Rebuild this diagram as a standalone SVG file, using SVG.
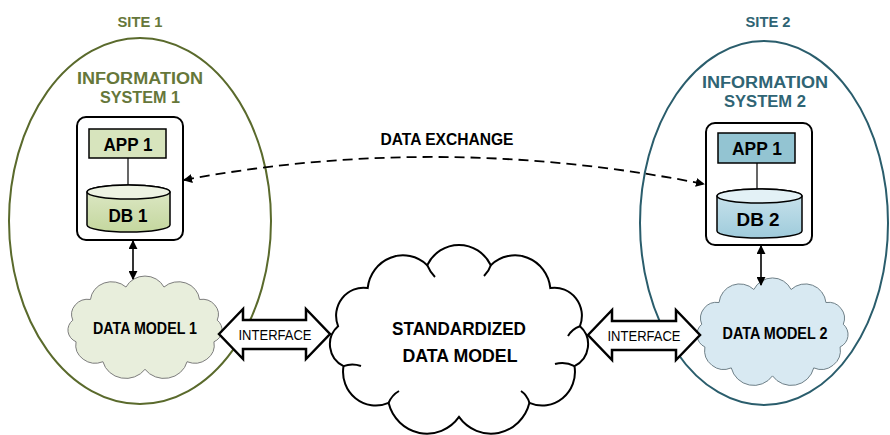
<svg xmlns="http://www.w3.org/2000/svg" width="890" height="435" viewBox="0 0 890 435">
<defs>
<style>
.t{font-family:"Liberation Sans",Arial,sans-serif;text-anchor:middle}
.b{font-weight:bold}
.g{fill:#66773a}
.c{fill:#2f6474}
.box{fill:#fff;stroke:#000;stroke-width:2}
.dm1{fill:#e8eedc;stroke:#7d7d7d;stroke-width:1}
.dm2{fill:#d8e9f2;stroke:#6f8088;stroke-width:1}
.sdm{fill:#fff;stroke:#000;stroke-width:2}
.iface{fill:#fff;stroke:#000;stroke-width:2.5;stroke-linejoin:miter}
.curl{fill:none;stroke:#000;stroke-width:2}
</style>
<linearGradient id="gdb1" x1="0" y1="0" x2="0" y2="1">
<stop offset="0" stop-color="#dfe9c9"/><stop offset="1" stop-color="#c4d79e"/>
</linearGradient>
<linearGradient id="gdb2" x1="0" y1="0" x2="0" y2="1">
<stop offset="0" stop-color="#cce5ee"/><stop offset="1" stop-color="#9fcbdb"/>
</linearGradient>
<marker id="ah" viewBox="0 0 10 10" refX="9" refY="5" markerWidth="9" markerHeight="9" markerUnits="userSpaceOnUse" orient="auto-start-reverse">
<path d="M0,0 L10,5 L0,10 Z" fill="#000"/>
</marker>
<path id="cloud" d="M11.4,55.4 A20,20 0 0 1 33.1,28.2 A26,26 0 0 1 76.7,11.9 A26,26 0 0 1 123.3,11.9 A26,26 0 0 1 166.9,28.2 A20,20 0 0 1 188.6,55.4 A17,17 0 0 1 184.6,83.8 A24,24 0 0 1 151.6,110 A29,29 0 0 1 100,120 A29,29 0 0 1 48.4,110 A24,24 0 0 1 15.4,83.8 A17,17 0 0 1 11.4,55.4 Z" vector-effect="non-scaling-stroke"/>
</defs>
<rect width="890" height="435" fill="#fff"/>

<g id="site1">
<ellipse cx="140" cy="221" rx="131" ry="183" fill="none" stroke="#5a6a2c" stroke-width="2"/>
<text class="t b g" x="140" y="27" font-size="15" textLength="45" lengthAdjust="spacingAndGlyphs">SITE 1</text>
<text class="t b g" x="140" y="84" font-size="16" textLength="126" lengthAdjust="spacingAndGlyphs">INFORMATION</text>
<text class="t b g" x="140" y="103" font-size="16" textLength="80" lengthAdjust="spacingAndGlyphs">SYSTEM 1</text>
</g>

<g id="site2">
<ellipse cx="764" cy="223" rx="124" ry="182" fill="none" stroke="#2a5d6c" stroke-width="2"/>
<text class="t b c" x="768" y="27" font-size="15" textLength="45" lengthAdjust="spacingAndGlyphs">SITE 2</text>
<text class="t b c" x="765" y="88" font-size="16" textLength="126" lengthAdjust="spacingAndGlyphs">INFORMATION</text>
<text class="t b c" x="765" y="107" font-size="16" textLength="82" lengthAdjust="spacingAndGlyphs">SYSTEM 2</text>
</g>

<g id="system1">
<rect class="box" x="77" y="117" width="106" height="123" rx="9"/>
<line x1="128" y1="158" x2="128" y2="185" stroke="#000" stroke-width="1.2"/>
<rect x="89" y="129" width="77" height="29" fill="#d7e4bd" stroke="#000" stroke-width="1.5"/>
<text class="t b" x="128" y="151" font-size="19" textLength="49" lengthAdjust="spacingAndGlyphs">APP 1</text>
<path d="M87,192 L87,225 A41.5,7 0 0 0 170,225 L170,192 A41.5,7 0 0 0 87,192 Z" fill="url(#gdb1)" stroke="#000" stroke-width="1.5"/>
<ellipse cx="128.5" cy="192" rx="41.5" ry="7" fill="#eef3e3" stroke="#000" stroke-width="1.5"/>
<text class="t b" x="128" y="222" font-size="19" textLength="39" lengthAdjust="spacingAndGlyphs">DB 1</text>
</g>

<g id="system2">
<rect class="box" x="706" y="123" width="106" height="122" rx="9"/>
<line x1="757" y1="163" x2="757" y2="190" stroke="#000" stroke-width="1.2"/>
<rect x="718" y="133" width="77" height="30" fill="#93c4d2" stroke="#000" stroke-width="1.5"/>
<text class="t b" x="757" y="155" font-size="19" textLength="50" lengthAdjust="spacingAndGlyphs">APP 1</text>
<path d="M717,196 L717,231 A42.5,7 0 0 0 802,231 L802,196 A42.5,7 0 0 0 717,196 Z" fill="url(#gdb2)" stroke="#000" stroke-width="1.5"/>
<ellipse cx="759.5" cy="196" rx="42.5" ry="7" fill="#e3f1f6" stroke="#000" stroke-width="1.5"/>
<text class="t b" x="758" y="226" font-size="19" textLength="43" lengthAdjust="spacingAndGlyphs">DB 2</text>
</g>

<g id="datamodel1">
<use href="#cloud" class="dm1" transform="translate(63.5,278) scale(0.815,0.761)"/>
<text class="t b" x="145" y="334" font-size="16" textLength="104" lengthAdjust="spacingAndGlyphs">DATA MODEL 1</text>
</g>

<g id="datamodel2">
<use href="#cloud" class="dm2" transform="translate(692.6,280) scale(0.799,0.799)"/>
<text class="t b" x="775" y="339" font-size="16" textLength="105" lengthAdjust="spacingAndGlyphs">DATA MODEL 2</text>
</g>

<g id="standardized">
<use href="#cloud" class="sdm" transform="translate(322.5,248.5) scale(1.365,1.403)"/>
<path class="curl" d="M343.5,366.1 Q352,363 361,366"/>
<path class="curl" d="M427.2,265.2 Q430,272 435,277"/>
<path class="curl" d="M490.8,265.2 Q489,271 484,276"/>
<path class="curl" d="M579.9,326.2 Q572,329 568,336"/>
<path class="curl" d="M574.5,366.1 Q565,361 555,364"/>
<path class="curl" d="M388.6,402.8 Q392,395 399,391"/>
<path class="curl" d="M529.4,402.8 Q527,395 521,391"/>
<text class="t b" x="459" y="335" font-size="18" textLength="134" lengthAdjust="spacingAndGlyphs">STANDARDIZED</text>
<text class="t b" x="460" y="362" font-size="18" textLength="115" lengthAdjust="spacingAndGlyphs">DATA MODEL</text>
</g>

<g id="connectors">
<path d="M184,180 Q440,132 704,184" fill="none" stroke="#000" stroke-width="1.8" stroke-dasharray="10,6" marker-start="url(#ah)" marker-end="url(#ah)"/>
<text class="t b" x="447" y="145" font-size="16" textLength="133" lengthAdjust="spacingAndGlyphs">DATA EXCHANGE</text>
<line x1="133" y1="241" x2="133" y2="279" stroke="#000" stroke-width="1.6" marker-start="url(#ah)" marker-end="url(#ah)"/>
<line x1="761" y1="246" x2="761" y2="285" stroke="#000" stroke-width="1.6" marker-start="url(#ah)" marker-end="url(#ah)"/>
<g id="interface1">
<polygon class="iface" points="219,334 243,309 243,320 306,320 306,309 330,334 306,359 306,349 243,349 243,359"/>
<text class="t" x="275" y="340" font-size="15" textLength="73" lengthAdjust="spacingAndGlyphs">INTERFACE</text>
</g>
<g id="interface2">
<polygon class="iface" points="588,335 612,310 612,321 676,321 676,310 700,335 676,360 676,350 612,350 612,360"/>
<text class="t" x="644" y="341" font-size="15" textLength="73" lengthAdjust="spacingAndGlyphs">INTERFACE</text>
</g>
</g>
</svg>
